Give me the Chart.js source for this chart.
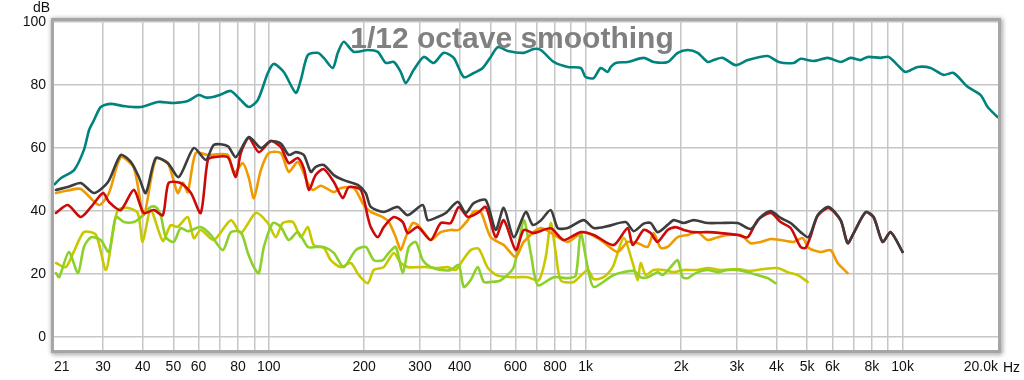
<!DOCTYPE html>
<html>
<head>
<meta charset="utf-8">
<script src="https://cdn.jsdelivr.net/npm/chart.js@4.4.1/dist/chart.umd.min.js"></script>
<style>
  html, body { margin: 0; padding: 0; background: #fff; }
  #wrap { width: 1024px; height: 380px; position: relative; }
</style>
</head>
<body>
<div id="wrap"><canvas id="chart"></canvas></div>
<script>
// frequency axis ticks (Hz) and their labels
const xTickValues = [21, 30, 40, 50, 60, 70, 80, 90, 100, 200, 300, 400, 500, 600, 700, 800, 900,
    1000, 2000, 3000, 4000, 5000, 6000, 7000, 8000, 9000, 10000, 20000];
const xTickLabels = ['21', '30', '40', '50', '60', '', '80', '', '100', '200', '300', '400', '', '600', '', '800', '',
    '1k', '2k', '3k', '4k', '5k', '6k', '', '8k', '', '10k', '20.0k'];
const yTickValues = [0, 20, 40, 60, 80, 100];

// [Hz, dB] pairs
const teal = [[21.1,48.5],[22.1,50.5],[24.3,53],[26.1,59.4],[27.1,65.7],[28.1,68.9],[29.5,73],[31.7,74],[34.9,73.3],[39.5,73],[44.7,74.6],[50.1,74.3],[55.5,74.9],[60.1,76.8],[63.3,76],[66.6,76.2],[70.6,77],[75.9,78.1],[81.6,75.2],[86.5,73],[92.3,75.2],[99.3,83.8],[103.7,86.7],[111.5,84.1],[121.7,77.5],[126.2,81.6],[132.8,89.5],[142.7,90.2],[149.1,88.6],[159.2,85.4],[165.1,90.2],[172.4,93.7],[185.4,90.5],[205.3,91.1],[220.8,90.5],[233.9,87],[248,87.3],[260.9,84.1],[270.5,80.6],[286.7,84.8],[308.3,88.9],[331.5,87],[356.5,90.2],[383.4,88.6],[412.3,82.5],[443.3,83.8],[473.3,85.4],[501.5,88.9],[527.6,92],[567.6,90.8],[637.5,90.2],[685.6,91.4],[721.3,91.1],[792.9,87.3],[877.6,85.7],[964.3,85.4],[1000,82.5],[1060,82.2],[1115,85.4],[1173,84.1],[1199,85.7],[1243,87],[1357,87.3],[1524,88.6],[1638,87.3],[1814,87.3],[1951,90.2],[2098,91.1],[2256,90.2],[2426,87.3],[2534,87.9],[2705,88.6],[2973,86.3],[3244,87.9],[3751,89.2],[4063,87.3],[4531,87],[4767,88.3],[5240,87.6],[5800,88.6],[6376,87.3],[6856,88.6],[7372,87.9],[7757,88.9],[8524,88.6],[9035,88.9],[9643,86.3],[10220,84.1],[11150,85.7],[12260,85.4],[13470,83.2],[14490,83.8],[16040,79.4],[17630,76.8],[18550,73],[19940,69.8]];

const gray = [[21.3,46.7],[23.2,47.6],[25.5,48.9],[28.1,45.7],[31.1,49.2],[34.1,57.8],[36.7,55.6],[38.9,50.8],[40.9,45.7],[44,56.8],[48,55.2],[52,50.8],[58,60],[63.3,56.2],[67.1,61],[74.2,60.6],[78.7,57.1],[86.5,63.5],[94.4,60],[101.5,62.2],[109.1,61.4],[115.6,57.8],[121.7,58.7],[129,57.8],[135.7,52.4],[140.6,54],[149.1,54.6],[160.4,51.4],[172.4,49.8],[190.9,48.3],[202.3,45.7],[209.8,41.3],[230.5,39.7],[255.3,41.3],[274.5,38.7],[306.1,41.9],[317.4,37.1],[341.3,38.1],[361.7,39.4],[394.7,42.9],[418.3,39.4],[443.3,42.5],[483.8,43.5],[520,34],[551.4,41],[592.9,31.7],[646.8,39.7],[680.6,35.6],[721.3,37],[775.8,40.3],[816.4,34.6],[877.6,34.6],[985.6,37.1],[1060,34.6],[1173,35.2],[1337,36.5],[1418,33.6],[1524,36],[1603,36.2],[1686,33.3],[1814,35.6],[1895,37.1],[2038,36.2],[2191,37.1],[2426,36.2],[2666,36.2],[3016,36.2],[3316,34.3],[3565,38.1],[3834,40],[4122,37.8],[4433,36.2],[4767,33.3],[5053,31.7],[5395,38.7],[5842,41.3],[6376,37.1],[6708,29.8],[7008,33],[7645,39.7],[8103,38.1],[8649,30.2],[9167,33.3],[10000,27]];

const red = [[21.3,39.4],[23.2,41.9],[25.5,38.1],[27.5,41.3],[30,45.7],[31.3,42.9],[34.1,40.3],[37.5,46.7],[40.3,39.4],[43.4,40.3],[46.3,38.7],[48.3,48.9],[52.7,48.9],[56.8,45.7],[61,39.4],[64.2,56.2],[67.1,57.1],[74.2,57.1],[78.7,50.8],[81.6,58.4],[86.5,63.2],[93,58.7],[101.5,62.2],[109.1,60.3],[115.6,55.2],[123.5,56.8],[129,53.5],[133.8,46.7],[140.6,51.4],[149.1,53.3],[160.4,49.2],[171.2,44.1],[178.8,47.6],[195.1,46.7],[205.3,38.1],[209.8,34.9],[220.8,31.7],[230.5,34.9],[248,38.1],[264.7,36.5],[274.5,33],[295.2,34.9],[324.4,30.8],[348.8,36.2],[375.1,36.2],[397.6,41.3],[424.5,38.1],[456.4,39.4],[483.8,41.3],[520,31.7],[551.4,37.1],[601.6,27.6],[637.5,34],[685.6,33],[775.8,34.5],[852.5,30.8],[964.3,33.3],[1060,32.4],[1225,29.2],[1357,34.6],[1407,29.2],[1524,34],[1603,33],[1686,30.2],[1814,34],[1923,34.9],[2038,34],[2191,33.3],[2426,33.3],[2666,33],[3016,32.4],[3244,31.7],[3488,37.1],[3834,39.4],[4122,36.5],[4433,34.6],[4767,28.6],[4943,28.3],[5126,32],[5395,38.5],[5842,41],[6376,37],[6708,29.8],[7008,33],[7645,39.5],[8103,38],[8649,30.2],[9167,33.3],[10000,27]];

const orange = [[21.3,45.7],[23.2,46.5],[25.5,47],[29.1,41.9],[31.3,45.7],[34.1,57],[37.5,53.7],[40.3,38.7],[44,56.5],[48,55.2],[51.6,45.7],[53.6,49],[55.5,46],[58.8,58.4],[64.2,57.8],[74.2,57.8],[77.6,52],[82.8,55.2],[86.5,50.5],[89.7,44.1],[94.4,53],[100,58.4],[109.1,58.4],[115.6,52.4],[123.5,55.6],[132.8,48.9],[137.7,46.7],[145.9,48],[160.4,46],[168.7,47.3],[185.4,47.3],[199.4,41.9],[209.8,39.7],[228.9,38.1],[239.1,36.5],[251.6,31.7],[260.9,27.6],[270.5,31.7],[284.6,36.2],[295.2,35.6],[308.3,33.3],[324.4,30.8],[348.8,33.3],[375.1,34],[397.6,34],[424.5,37.1],[443.3,39.7],[466.5,39.7],[501.5,31.7],[551.4,29.2],[601.6,25.4],[637.5,30.2],[721.3,34.6],[816.4,31.7],[877.6,30.2],[985.6,33.3],[1115,30.8],[1261,27],[1357,30.2],[1459,29.8],[1569,28.6],[1638,33],[1724,28.3],[1814,28.6],[1951,31.7],[2098,32.4],[2256,33.3],[2426,30.8],[2609,31.7],[2805,32.4],[3083,32.4],[3316,29.8],[3565,30.2],[3834,31.1],[4122,30.8],[4531,30.2],[4837,31.4],[5053,28.3],[5513,27],[5928,27.6],[6239,23.5],[6708,20.3]];

const yellow = [[21.3,23.5],[22.9,22.2],[24.3,27.3],[26.1,33.3],[28.5,32.4],[30.6,21.3],[32.2,33],[33.4,40.3],[35.9,41],[38.6,39.4],[40,30.2],[42.4,40.3],[46.3,30.5],[49,35.5],[51.6,35],[55.5,38.1],[58,31.4],[61,34],[67.1,30.8],[75.9,37.1],[81.6,33],[91,39.4],[99.3,36.2],[105.2,31.7],[110.7,36.2],[119.1,36.5],[126.2,31.7],[132.8,34.9],[138.6,29.2],[149.1,28.3],[156.9,24.4],[168.7,22.2],[181.4,23.5],[192.3,19.7],[205.3,17.1],[214.5,21.3],[230.5,22.2],[248,26.7],[260.9,23.5],[274.5,22.2],[295.2,22.2],[317.4,22.2],[341.3,21.9],[367.1,22.2],[389,21.3],[409.3,24.4],[433.7,27.6],[459.8,28],[490.7,22],[527.6,19.5],[592.9,19],[656.4,19],[710.9,18],[748,25.4],[775.8,36.2],[804.5,26.7],[834.3,18],[916.7,17.5],[1015,21.3],[1060,18.4],[1140,19],[1217,22.2],[1318,31.4],[1407,23.5],[1459,18],[1491,23.5],[1546,19.7],[1638,21.3],[1762,21.3],[1895,20.6],[2038,21.3],[2256,21.3],[2426,21.9],[2666,21.3],[3016,21.6],[3316,21],[3644,21.6],[4034,21.9],[4337,20.6],[4665,19.7],[5016,17.5]];

const green = [[21.3,20.3],[21.8,19],[23.4,27],[25,20.3],[26.1,28.6],[27.5,31.7],[29.5,30.8],[31.3,27],[32.9,38.1],[34.9,36.5],[37.5,36.5],[39.5,38],[42.4,41.3],[44,41.3],[45.6,38.7],[47.3,31.7],[50.1,30.2],[52.7,34.6],[55.5,33.6],[61,34.9],[65.6,32.4],[71.6,27.6],[75.9,33.3],[81.6,33.3],[85.9,26.7],[89.7,22.2],[93,20.3],[96.5,28.6],[103,36.2],[109.1,35],[115.6,30.8],[123.5,33.3],[132.8,28.6],[140.6,28.6],[149.1,28.6],[160.4,26.7],[172.4,22.2],[188.1,27.6],[202.3,28.6],[214.5,24.4],[228.9,24.4],[239.1,26.7],[251.6,28.6],[264.7,20.3],[276.5,28.6],[290.9,30.2],[306.1,24.4],[324.4,22.2],[348.8,21.3],[375.1,21.3],[397.6,22.9],[412.3,15.9],[433.7,18.1],[456.4,22.2],[476.8,17.5],[501.5,17.5],[539.3,18],[592.9,22.2],[637.5,37.1],[670.8,26.7],[705.9,16.5],[792.9,19],[877.6,18.7],[929.9,19.5],[964.3,33],[1015,22],[1060,15.9],[1225,19.7],[1418,21],[1491,19],[1569,19],[1686,20.6],[1749,19.7],[1854,22.2],[1951,24.4],[2023,19],[2098,18.7],[2223,20.3],[2426,21.3],[2609,20.6],[2805,21.3],[3016,21.3],[3244,20.6],[3488,19.7],[3751,18.7],[3975,17.1]];

const FONT = 'Liberation Sans, Arial, Helvetica, sans-serif';
Chart.defaults.font.family = FONT;
Chart.defaults.font.size = 14;
Chart.defaults.color = '#111';

const toPoints = arr => arr.map(([x, y]) => ({ x, y }));

function line(data, color) {
    return {
        data: toPoints(data),
        borderColor: color,
        borderWidth: 2.6,
        pointRadius: 0,
        tension: 0.25,
        borderJoinStyle: 'round',
        borderCapStyle: 'round',
        fill: false
    };
}

// gray shadowed frame round the plot, the title over it and the unit labels
const framePlugin = {
    id: 'frame',
    afterDraw(chart) {
        const { ctx, chartArea: a } = chart;
        ctx.save();
        ctx.beginPath();
        ctx.rect(0, 0, chart.width, chart.height);
        ctx.rect(a.left, a.top, a.right - a.left, a.bottom - a.top);
        ctx.clip('evenodd');
        ctx.shadowColor = 'rgba(0,0,0,0.55)';
        ctx.shadowBlur = 5;
        ctx.shadowOffsetX = 1;
        ctx.shadowOffsetY = 1;
        ctx.strokeStyle = '#a6a6a6';
        ctx.lineWidth = 3;
        ctx.strokeRect(a.left - 1.5, a.top - 1.5, a.right - a.left + 3, a.bottom - a.top + 3);
        ctx.restore();

        ctx.save();
        ctx.fillStyle = '#808080';
        ctx.font = 'bold 30px ' + FONT;
        ctx.textAlign = 'center';
        ctx.textBaseline = 'alphabetic';
        ctx.fillText('1/12 octave smoothing', chart.width / 2, 48);

        ctx.fillStyle = '#111';
        ctx.font = '14px ' + FONT;
        ctx.textBaseline = 'middle';
        ctx.textAlign = 'right';
        ctx.fillText('dB', 50, 8);
        ctx.textAlign = 'left';
        ctx.fillText('Hz', a.right + 5, 368);
        ctx.restore();
    }
};

new Chart(document.getElementById('chart'), {
    type: 'line',
    data: {
        datasets: [
            line(gray, '#3d3d3d'),
            line(red, '#cc0a0a'),
            line(orange, '#f09a00'),
            line(green, '#8cd02a'),
            line(yellow, '#c8c800'),
            line(teal, '#00837d')
        ]
    },
    options: {
        responsive: true,
        maintainAspectRatio: false,
        animation: false,
        layout: { padding: { top: 21, right: 26, left: 0, bottom: 0 } },
        plugins: {
            legend: { display: false },
            tooltip: { enabled: false }
        },
        scales: {
            x: {
                type: 'logarithmic',
                min: 21,
                max: 20000,
                afterBuildTicks: scale => {
                    scale.ticks = xTickValues.map(v => ({ value: v }));
                },
                afterFit: scale => { scale.height = 30; },
                border: { display: false },
                grid: {
                    drawTicks: false,
                    lineWidth: 1.5,
                    color: ctx => (ctx.tick && (ctx.tick.value === 21 || ctx.tick.value === 20000)) ? 'rgba(0,0,0,0)' : '#c6c6c6'
                },
                ticks: {
                    autoSkip: false,
                    maxRotation: 0,
                    align: 'inner',
                    padding: 9,
                    callback: (v, i) => xTickLabels[i]
                }
            },
            y: {
                min: -4.1,
                max: 100.3,
                afterBuildTicks: scale => {
                    scale.ticks = yTickValues.map(v => ({ value: v }));
                },
                afterFit: scale => { scale.width = 54; },
                border: { display: false },
                grid: {
                    drawTicks: false,
                    lineWidth: 1.5,
                    color: '#c6c6c6'
                },
                ticks: {
                    padding: 8,
                    callback: v => String(v)
                }
            }
        }
    },
    plugins: [framePlugin]
});
</script>
</body>
</html>
